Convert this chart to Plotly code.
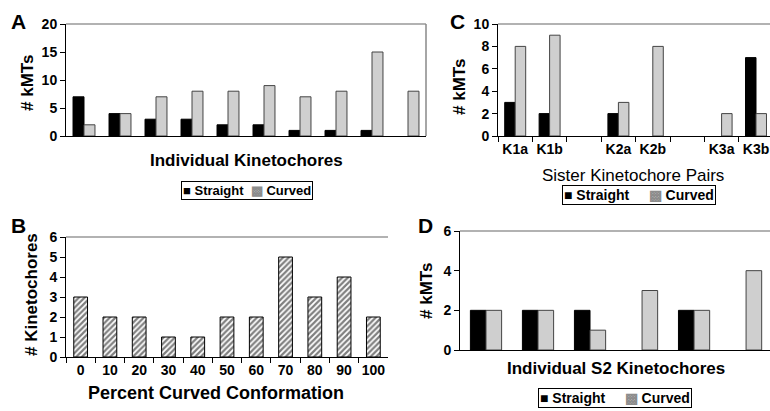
import plotly.graph_objects as go

W, H = 770, 411

# ---------------- data ----------------
a_kinetochores = [str(i) for i in range(1, 11)]
a_straight = [7, 4, 3, 3, 2, 2, 1, 1, 1, 0]
a_curved = [2, 4, 7, 8, 8, 9, 7, 8, 15, 8]

b_percent = ["0", "10", "20", "30", "40", "50", "60", "70", "80", "90", "100"]
b_count = [3, 2, 2, 1, 1, 2, 2, 5, 3, 4, 2]

c_pairs = ["K1a", "K1b", " ", "K2a", "K2b", "  ", "K3a", "K3b"]
c_straight = [3, 2, 0, 2, 0, 0, 0, 7]
c_curved = [8, 9, 0, 3, 8, 0, 2, 2]

d_kinetochores = ["1", "2", "3", "4", "5", "6"]
d_straight = [2, 2, 2, 0, 2, 0]
d_curved = [2, 2, 1, 3, 2, 4]

series_names = ["Straight", "Curved"]

FONT = "Liberation Sans, Arial, sans-serif"


def px_x(p):
    return p / W


def px_y(p):
    return 1 - p / H


def nz(vals):
    # zero-count bars are not drawn in the original
    return [v if v else None for v in vals]


straight_marker = dict(color="black", line=dict(color="black", width=1))
curved_marker = dict(
    color="#d4d4d4",
    line=dict(color="#444", width=1),
    pattern=dict(shape=".", fgcolor="#8a8a8a", bgcolor="#e2e2e2", size=2, solidity=0.5),
)

fig = go.Figure()

# A
bw = 0.305
fig.add_bar(x=a_kinetochores, y=nz(a_straight), name=series_names[0], marker=straight_marker,
            width=bw, offset=-bw, xaxis="x", yaxis="y")
fig.add_bar(x=a_kinetochores, y=nz(a_curved), name=series_names[1], marker=curved_marker,
            width=bw, offset=0, xaxis="x", yaxis="y")
# B
fig.add_bar(x=b_percent, y=nz(b_count), name="Kinetochores", width=0.47, offset=-0.235,
            marker=dict(color="white", line=dict(color="black", width=1),
                        pattern=dict(shape="/", fgcolor="black", bgcolor="white", size=4, solidity=0.55)),
            xaxis="x2", yaxis="y2")
# C
fig.add_bar(x=c_pairs, y=nz(c_straight), name=series_names[0], marker=straight_marker,
            width=bw, offset=-bw, xaxis="x3", yaxis="y3")
fig.add_bar(x=c_pairs, y=nz(c_curved), name=series_names[1], marker=curved_marker,
            width=bw, offset=0, xaxis="x3", yaxis="y3")
# D
dw = 0.3
fig.add_bar(x=d_kinetochores, y=nz(d_straight), name=series_names[0], marker=straight_marker,
            width=dw, offset=-dw, xaxis="x4", yaxis="y4")
fig.add_bar(x=d_kinetochores, y=nz(d_curved), name=series_names[1], marker=curved_marker,
            width=dw, offset=0, xaxis="x4", yaxis="y4")

fig.update_traces(showlegend=False)

tickfont = dict(family=FONT, size=14, color="black", weight="bold")

ycommon = dict(showline=True, linecolor="black", linewidth=1, ticks="outside", ticklen=5,
               tickcolor="black", showgrid=False, zeroline=False, tickfont=tickfont,
               automargin=False, fixedrange=True)
xcommon = dict(type="category", showline=True, linecolor="black", linewidth=1, showgrid=False,
               zeroline=False, automargin=False, tickangle=0,
               tickfont=dict(family=FONT, size=14, color="black", weight="bold"))

fig.update_layout(
    width=W, height=H, margin=dict(l=0, r=0, t=0, b=0, pad=0, autoexpand=False),
    paper_bgcolor="white", plot_bgcolor="white",
    barmode="overlay", showlegend=False,
    font=dict(family=FONT, color="black"),
    # A
    xaxis=dict(**xcommon, domain=[px_x(66), px_x(426)], range=[-0.5, 9.5], showticklabels=False,
               ticks="", anchor="y"),
    yaxis=dict(**ycommon, domain=[px_y(136), px_y(24)], range=[0, 20], tickvals=[0, 5, 10, 15, 20],
               anchor="x"),
    # B
    xaxis2=dict(**xcommon, domain=[px_x(66), px_x(388)], range=[-0.5, 10.5], ticks="outside",
                tickson="boundaries", ticklen=5, tickcolor="black", anchor="y2"),
    yaxis2=dict(**ycommon, domain=[px_y(357), px_y(237)], range=[0, 6], dtick=1, anchor="x2"),
    # C
    xaxis3=dict(**xcommon, domain=[px_x(498), 1.0], range=[-0.5, 7.407], ticks="outside",
                tickson="boundaries", ticklen=5, tickcolor="black", anchor="y3"),
    yaxis3=dict(**ycommon, domain=[px_y(136), px_y(24)], range=[0, 10], dtick=2, anchor="x3"),
    # D
    xaxis4=dict(**xcommon, domain=[px_x(460), 1.0], range=[-0.5, 5.46], showticklabels=False,
                ticks="", anchor="y4"),
    yaxis4=dict(**ycommon, domain=[px_y(350), px_y(231)], range=[0, 6], dtick=2, anchor="x4"),
)

# frame lines (grey top / right borders)
for ax, right in (("", True), ("2", False), ("3", False), ("4", False)):
    xr, yr = f"x{ax} domain", f"y{ax} domain"
    fig.add_shape(type="line", xref=xr, yref=yr, x0=0, x1=1, y0=1, y1=1,
                  line=dict(color="#999999", width=1.5))
    if right:
        fig.add_shape(type="line", xref=xr, yref=yr, x0=1, x1=1, y0=0, y1=1,
                      line=dict(color="#888888", width=1.5))


def ann(text, x, y, size, bold=True, angle=0, border=False):
    extra = dict(bordercolor="black", borderwidth=1, borderpad=1, bgcolor="white") if border else {}
    fig.add_annotation(text=text, x=px_x(x), y=px_y(y), xref="paper", yref="paper",
                       showarrow=False, textangle=angle, xanchor="center", yanchor="middle",
                       font=dict(family=FONT, size=size, color="black",
                                 weight="bold" if bold else "normal"), **extra)


# panel letters
ann("A", 18, 21, 21)
ann("B", 18, 225, 21)
ann("C", 457, 21, 21)
ann("D", 425, 225, 21)

# axis titles
ann("# kMTs", 28, 83, 17, angle=-90)
ann("Individual Kinetochores", 246, 160, 17)
ann("# Kinetochores", 31, 295, 17, angle=-90)
ann("Percent Curved Conformation", 216, 393, 18)
ann("# kMTs", 460, 87, 17, angle=-90)
ann("Sister Kinetochore Pairs", 633, 175, 17, bold=False)
ann("# kMTs", 426, 291, 17, angle=-90)
ann("Individual S2 Kinetochores", 616, 368, 17)

# legends (compact boxed keys as in the original)
sw_straight = '<span style="color:black">■</span>'
sw_curved = '<span style="color:#8c8c8c">▩</span>'
leg_a = f"{sw_straight} {series_names[0]}  {sw_curved} {series_names[1]}"
leg_c = f"{sw_straight} {series_names[0]}     {sw_curved} {series_names[1]}"
ann(leg_a, 247, 190, 13, border=True)
ann(leg_c, 639, 195, 14, border=True)
ann(leg_c, 615, 398, 14, border=True)

fig.write_html("out.html", config={"displayModeBar": False},
               post_script="document.body.style.margin='0';")
